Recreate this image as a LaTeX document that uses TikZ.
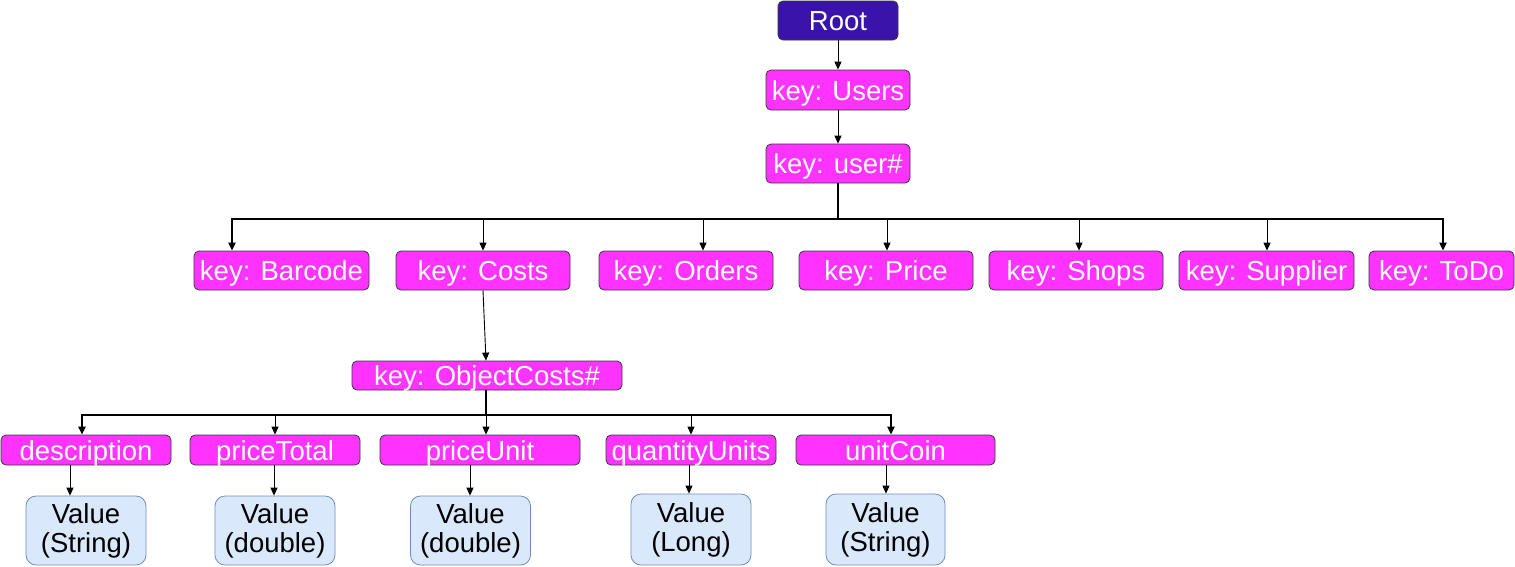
\documentclass[tikz,border=0pt]{standalone}
\usepackage{fontspec}
\setmainfont{Liberation Sans}
\usetikzlibrary{arrows.meta}
\definecolor{mag}{HTML}{FF33FF}
\definecolor{rootc}{HTML}{3A14AA}
\definecolor{valf}{HTML}{DAE8FC}
\definecolor{vals}{HTML}{6C8EBF}
\definecolor{edgec}{HTML}{36393D}
\begin{document}
\begin{tikzpicture}[x=1pt,y=-1pt,
  font=\fontsize{27.5}{29}\selectfont,
  keybox/.style={draw=edgec, fill=mag, text=white, rounded corners=5pt, inner sep=0pt, line width=0.8pt, text height=20pt, text depth=0pt},
  rootbox/.style={keybox, fill=rootc},
  valbox/.style={draw=vals, fill=valf, text=black, rounded corners=10pt, inner sep=0pt, line width=0.8pt, align=center},
  arr/.style={-{Triangle[length=8pt,width=7pt]}, line width=0.9pt, black},
  thickarr/.style={-{Triangle[length=8pt,width=7pt]}, line width=2pt, black},
  thickline/.style={line width=2pt, black},
]
\useasboundingbox (0,0) rectangle (1515,566);

% top chain
\node[rootbox, minimum width=120pt, minimum height=39pt] (root) at (838,20.5) {Root};
\node[keybox, minimum width=144pt, minimum height=40pt] (users) at (838,90) {key: Users};
\node[keybox, minimum width=144pt, minimum height=39pt] (usr) at (838,163.5) {key: user\#};

% second row
\node[keybox, minimum width=175pt, minimum height=39pt] (barcode) at (281.5,270.5) {key: Barcode};
\node[keybox, minimum width=174pt, minimum height=39pt] (costs) at (483,270.5) {key: Costs};
\node[keybox, minimum width=174pt, minimum height=39pt] (orders) at (686,270.5) {key: Orders};
\node[keybox, minimum width=174pt, minimum height=39pt] (price) at (886,270.5) {key: Price};
\node[keybox, minimum width=174pt, minimum height=39pt] (shops) at (1076,270.5) {key: Shops};
\node[keybox, minimum width=175pt, minimum height=39pt] (supplier) at (1266.5,270.5) {key: Supplier};
\node[keybox, minimum width=145pt, minimum height=39pt] (todo) at (1441.5,270.5) {key: ToDo};

% object costs
\node[keybox, minimum width=270pt, minimum height=29pt] (objc) at (487,375.5) {key: ObjectCosts\#};

% third row
\node[keybox, minimum width=170pt, minimum height=30pt] (desc) at (86,450) {description};
\node[keybox, minimum width=170pt, minimum height=30pt] (ptot) at (275,450) {priceTotal};
\node[keybox, minimum width=200pt, minimum height=30pt] (punit) at (480,450) {priceUnit};
\node[keybox, minimum width=170pt, minimum height=30pt] (qty) at (691,450) {quantityUnits};
\node[keybox, minimum width=199pt, minimum height=30pt] (ucoin) at (895.5,450) {unitCoin};

% values
\node[valbox, minimum width=120pt, minimum height=69pt] (v1) at (86,530.5) {Value\\(String)};
\node[valbox, minimum width=120pt, minimum height=69pt] (v2) at (275,530.5) {Value\\(double)};
\node[valbox, minimum width=120pt, minimum height=69pt] (v3) at (470.5,530.5) {Value\\(double)};
\node[valbox, minimum width=120pt, minimum height=71pt] (v4) at (691,529.5) {Value\\(Long)};
\node[valbox, minimum width=119pt, minimum height=71pt] (v5) at (885.5,529.5) {Value\\(String)};

% top arrows
\draw[arr] (root) -- (users);
\draw[arr] (users) -- (usr);

% first fan-out
\coordinate (h1) at (838,218.5);
\coordinate (dBar) at (232,218.5);
\coordinate (dCos) at (483,218.5);
\coordinate (dOrd) at (703,218.5);
\coordinate (dPri) at (887,218.5);
\coordinate (dSho) at (1079,218.5);
\coordinate (dSup) at (1267,218.5);
\coordinate (dTod) at (1443,218.5);
\draw[thickline] (usr.south) -- (h1);
\draw[thickarr] (h1) -- (dBar) -- (dBar |- barcode.north);
\draw[thickarr] (h1) -- (dTod) -- (dTod |- todo.north);
\draw[arr] (dCos) -- (dCos |- costs.north);
\draw[arr] (dOrd) -- (dOrd |- orders.north);
\draw[arr] (dPri) -- (dPri |- price.north);
\draw[arr] (dSho) -- (dSho |- shops.north);
\draw[arr] (dSup) -- (dSup |- supplier.north);

% costs -> object costs
\draw[arr] (costs.south) -- (objc.north -| 486,0);

% second fan-out
\coordinate (h2) at (486,414.5);
\coordinate (eDes) at (82,414.5);
\coordinate (ePto) at (275,414.5);
\coordinate (ePun) at (486,414.5);
\coordinate (eQty) at (691,414.5);
\coordinate (eUco) at (891,414.5);
\draw[thickline] (objc.south -| h2) -- (h2);
\draw[thickarr] (h2) -- (eDes) -- (eDes |- desc.north);
\draw[thickarr] (h2) -- (eUco) -- (eUco |- ucoin.north);
\draw[arr] (ePto) -- (ePto |- ptot.north);
\draw[arr] (ePun) -- (ePun |- punit.north);
\draw[arr] (eQty) -- (eQty |- qty.north);

% to values
\coordinate (f1) at (70,0);
\coordinate (f2) at (274,0);
\coordinate (f3) at (470,0);
\coordinate (f4) at (689,0);
\coordinate (f5) at (886,0);
\draw[arr] (desc.south -| f1) -- (v1.north -| f1);
\draw[arr] (ptot.south -| f2) -- (v2.north -| f2);
\draw[arr] (punit.south -| f3) -- (v3.north -| f3);
\draw[arr] (qty.south -| f4) -- (v4.north -| f4);
\draw[arr] (ucoin.south -| f5) -- (v5.north -| f5);
\end{tikzpicture}
\end{document}
